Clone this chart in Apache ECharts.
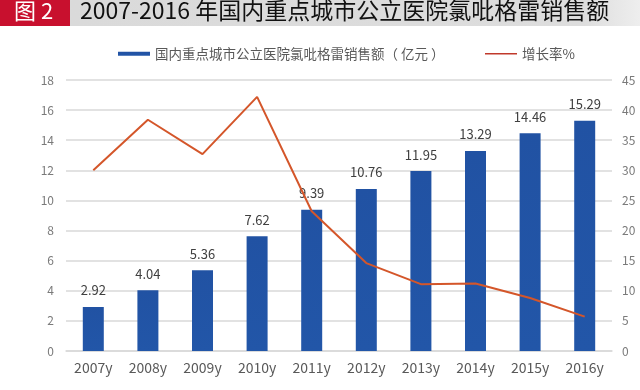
<!DOCTYPE html>
<html><head><meta charset="utf-8">
<script src="https://cdn.jsdelivr.net/npm/echarts@6/dist/echarts.min.js"></script>
<style>html,body{margin:0;padding:0;background:#fff;}#c{width:640px;height:390px;}</style>
</head><body><div id="c"></div>
<script>
const categories = ['2007y','2008y','2009y','2010y','2011y','2012y','2013y','2014y','2015y','2016y'];
const salesValues = [2.92, 4.04, 5.36, 7.62, 9.39, 10.76, 11.95, 13.29, 14.46, 15.29];
const growthValues = [30, 38.4, 32.7, 42.2, 23.2, 14.6, 11.1, 11.2, 8.8, 5.7];
const salesName = '国内重点城市公立医院氯吡格雷销售额（ 亿元 ）';
const growthName = '增长率%';
const titleText = '2007-2016 年国内重点城市公立医院氯吡格雷销售额';
const badgeText = '图 2';

const chart = echarts.init(document.getElementById('c'));
const font = '"Noto Sans CJK SC", "Open Sans", sans-serif';
chart.setOption({
  backgroundColor: '#ffffff',
  animation: false,
  textStyle: { fontFamily: font },
  graphic: [
    { type: 'rect', left: 70, top: 0, shape: { width: 570, height: 26 },
      style: { fill: new echarts.graphic.LinearGradient(0,0,1,0,[{offset:0,color:'#dadada'},{offset:0.9,color:'#dddddd'},{offset:1,color:'#eeeeee'}]) } },
    { type: 'rect', left: 0, top: 0, shape: { width: 70, height: 26 }, style: { fill: '#c8102e' } },
    { type: 'text', left: 14, top: 0, style: { text: badgeText, fill: '#ffffff', font: '22px ' + font } },
    { type: 'text', left: 80, top: -1, style: { text: titleText, fill: '#111111', font: '23px ' + font } }
  ],
  legend: [
    { data: [salesName], left: 113, top: 42, icon: 'rect', itemWidth: 32, itemHeight: 4, itemGap: 6,
      textStyle: { color: '#595959', fontSize: 13.5, fontFamily: font } },
    { data: [growthName], left: 480, top: 42, icon: 'rect', itemWidth: 32, itemHeight: 1.5, itemGap: 6,
      textStyle: { color: '#595959', fontSize: 13.5, fontFamily: font } }
  ],
  grid: { left: 66, right: 28, top: 80, bottom: 39 },
  xAxis: {
    type: 'category', data: categories,
    axisLine: { lineStyle: { color: '#d9d9d9', width: 1.5 } },
    axisTick: { show: false },
    axisLabel: { color: '#595959', fontSize: 14, margin: 10, fontFamily: font }
  },
  yAxis: [
    { type: 'value', min: 0, max: 18, interval: 2,
      axisLabel: { color: '#7a7a7a', fontSize: 12, margin: 12 },
      splitLine: { lineStyle: { color: '#d9d9d9', width: 1.5 } },
      axisLine: { show: false }, axisTick: { show: false } },
    { type: 'value', min: 0, max: 45, interval: 5,
      axisLabel: { color: '#7a7a7a', fontSize: 12, margin: 10 },
      splitLine: { show: false },
      axisLine: { show: false }, axisTick: { show: false } }
  ],
  series: [
    { name: salesName, type: 'bar', data: salesValues, barWidth: 21, yAxisIndex: 0,
      itemStyle: { color: new echarts.graphic.LinearGradient(0,0,0,1,[{offset:0,color:'#2152a3'},{offset:1,color:'#2256a8'}]) },
      label: { show: true, position: 'top', distance: 10, color: '#404040', fontSize: 13 } },
    { name: growthName, type: 'line', data: growthValues, yAxisIndex: 1,
      symbol: 'none', lineStyle: { color: '#d4562a', width: 2 }, itemStyle: { color: '#c0392b' }, z: 5 }
  ]
});
</script></body></html>
